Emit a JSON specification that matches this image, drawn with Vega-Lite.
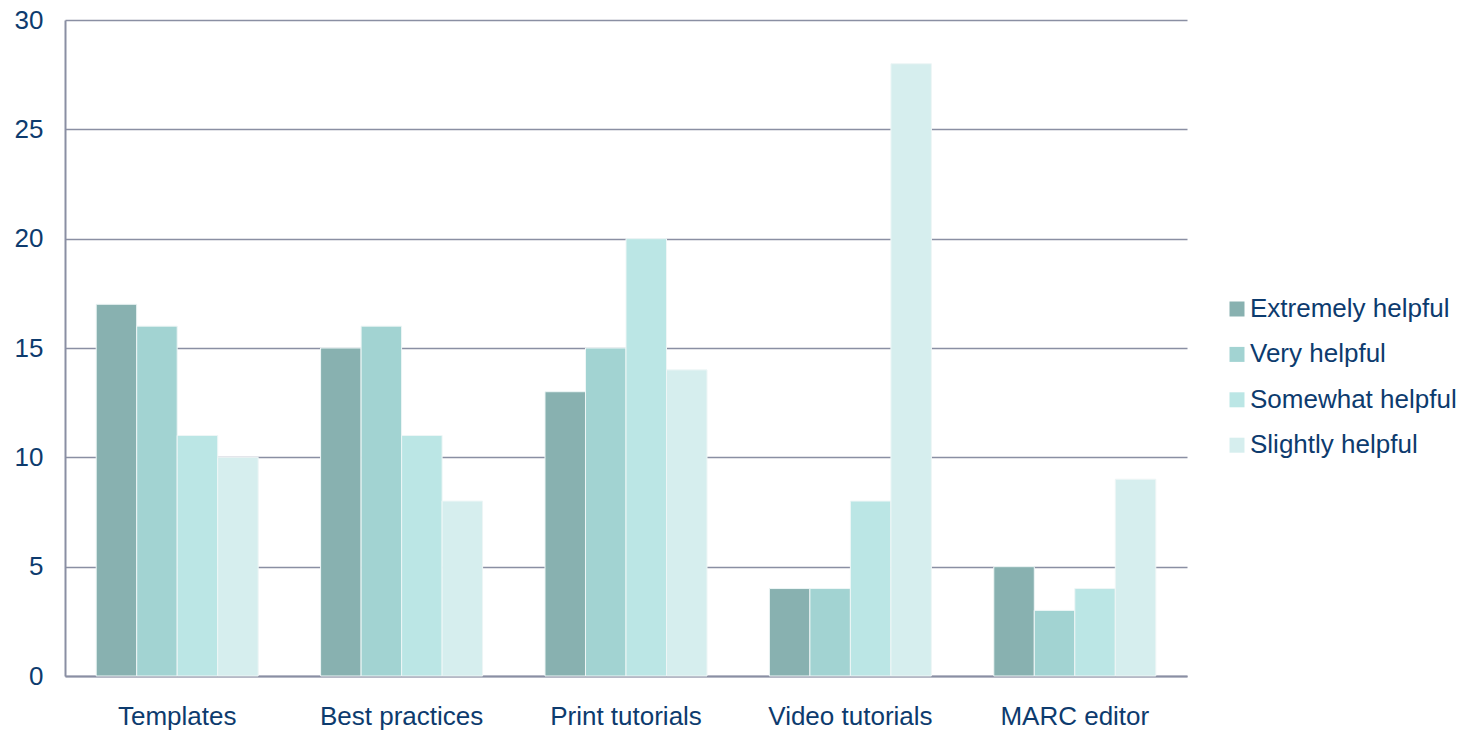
{
  "$schema": "https://vega.github.io/schema/vega-lite/v6.json",
  "width": 1122,
  "height": 656,
  "autosize": "none",
  "padding": {"left": 65, "top": 20, "right": 283, "bottom": 55},
  "background": "white",
  "config": {
    "font": "Liberation Sans",
    "view": {"stroke": null}
  },
  "data": {
    "values": [
      {"cat": "Templates", "level": "Extremely helpful", "v": 17},
      {"cat": "Templates", "level": "Very helpful", "v": 16},
      {"cat": "Templates", "level": "Somewhat helpful", "v": 11},
      {"cat": "Templates", "level": "Slightly helpful", "v": 10},
      {"cat": "Best practices", "level": "Extremely helpful", "v": 15},
      {"cat": "Best practices", "level": "Very helpful", "v": 16},
      {"cat": "Best practices", "level": "Somewhat helpful", "v": 11},
      {"cat": "Best practices", "level": "Slightly helpful", "v": 8},
      {"cat": "Print tutorials", "level": "Extremely helpful", "v": 13},
      {"cat": "Print tutorials", "level": "Very helpful", "v": 15},
      {"cat": "Print tutorials", "level": "Somewhat helpful", "v": 20},
      {"cat": "Print tutorials", "level": "Slightly helpful", "v": 14},
      {"cat": "Video tutorials", "level": "Extremely helpful", "v": 4},
      {"cat": "Video tutorials", "level": "Very helpful", "v": 4},
      {"cat": "Video tutorials", "level": "Somewhat helpful", "v": 8},
      {"cat": "Video tutorials", "level": "Slightly helpful", "v": 28},
      {"cat": "MARC editor", "level": "Extremely helpful", "v": 5},
      {"cat": "MARC editor", "level": "Very helpful", "v": 3},
      {"cat": "MARC editor", "level": "Somewhat helpful", "v": 4},
      {"cat": "MARC editor", "level": "Slightly helpful", "v": 9}
    ]
  },
  "mark": {"type": "bar", "stroke": "#eef6f6", "strokeWidth": 1},
  "encoding": {
    "x": {
      "field": "cat",
      "type": "nominal",
      "sort": ["Templates", "Best practices", "Print tutorials", "Video tutorials", "MARC editor"],
      "scale": {"paddingInner": 0.278, "paddingOuter": 0.139},
      "axis": {
        "title": null,
        "labelAngle": 0,
        "labelFontSize": 26,
        "labelColor": "#0d3b6e",
        "labelPadding": 27,
        "ticks": false,
        "domainColor": "#8a8fa3",
        "domainWidth": 2
      }
    },
    "xOffset": {
      "field": "level",
      "type": "nominal",
      "sort": ["Extremely helpful", "Very helpful", "Somewhat helpful", "Slightly helpful"],
      "scale": {"paddingInner": 0, "paddingOuter": 0}
    },
    "y": {
      "field": "v",
      "type": "quantitative",
      "scale": {"domain": [0, 30]},
      "axis": {
        "title": null,
        "values": [0, 5, 10, 15, 20, 25, 30],
        "labelFontSize": 26,
        "labelColor": "#0d3b6e",
        "labelPadding": 22,
        "ticks": false,
        "gridColor": "#8a8fa3",
        "gridWidth": 1.5,
        "domainColor": "#8a8fa3",
        "domainWidth": 2
      }
    },
    "color": {
      "field": "level",
      "type": "nominal",
      "sort": ["Extremely helpful", "Very helpful", "Somewhat helpful", "Slightly helpful"],
      "scale": {
        "domain": ["Extremely helpful", "Very helpful", "Somewhat helpful", "Slightly helpful"],
        "range": ["#88b1b0", "#a2d3d2", "#bbe6e5", "#d6eeee"]
      },
      "legend": {
        "title": null,
        "orient": "none",
        "legendX": 1159,
        "legendY": 276,
        "symbolType": "square",
        "symbolSize": 225,
        "symbolStrokeWidth": 0,
        "labelFontSize": 26,
        "labelLimit": 0,
        "labelColor": "#0d3b6e",
        "labelOffset": 0,
        "rowPadding": 19.4
      }
    }
  }
}
